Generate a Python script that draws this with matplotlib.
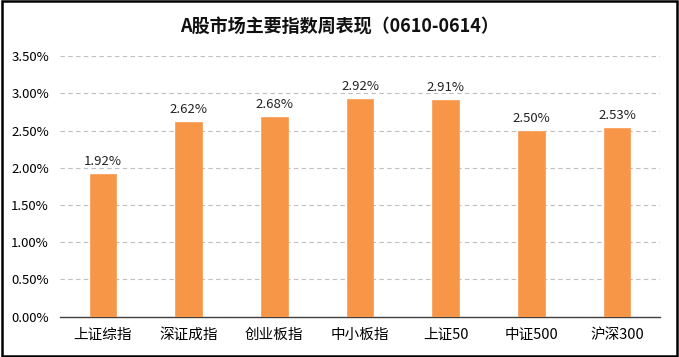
import matplotlib.pyplot as plt
from matplotlib.patches import Rectangle
from matplotlib.ticker import FuncFormatter

plt.rcParams['font.family'] = ['Noto Sans CJK SC', 'DejaVu Sans']

# data
indices = ['上证综指', '深证成指', '创业板指', '中小板指', '上证50', '中证500', '沪深300']
weekly_pct = [1.92, 2.62, 2.68, 2.92, 2.91, 2.50, 2.53]

fig = plt.figure(figsize=(6.79, 3.57), dpi=100)
ax = fig.add_axes([0.0884, 0.113, 0.8836, 0.730])

x = range(len(indices))
bars = ax.bar(x, weekly_pct, width=0.31, color='#F79646', edgecolor='#FAA25E', linewidth=0.6, zorder=3)
for xi, v in zip(x, weekly_pct):
    ax.text(xi, v + 0.08, '%.2f%%' % v, ha='center', va='bottom', fontsize=9.5, color='#222222')

ax.set_xlim(-0.5, len(indices) - 0.5)
ax.set_ylim(0, 3.5)
ax.set_yticks([i * 0.5 for i in range(8)])
ax.yaxis.set_major_formatter(FuncFormatter(lambda v, p: '%.2f%%' % v))
ax.set_xticks(list(x))
ax.set_xticklabels(indices, fontsize=10.5)
ax.tick_params(axis='y', length=0, labelsize=9.5, pad=8)
ax.tick_params(axis='x', length=0, pad=8)
ax.grid(axis='y', color='#BFBFBF', linestyle=(0, (4, 3)), linewidth=0.8, zorder=0)
for s in ['top', 'right', 'left']:
    ax.spines[s].set_visible(False)
ax.spines['bottom'].set_color('#404040')
ax.spines['bottom'].set_linewidth(1.0)

fig.text(0.5, 0.925, 'A股市场主要指数周表现（0610-0614）', ha='center', va='center',
         fontsize=13, fontweight='bold', color='#111111')

# outer frame
fig.patches.append(Rectangle((0.003, 0.004), 0.994, 0.992, transform=fig.transFigure,
                             fill=False, edgecolor='black', linewidth=1.8))

fig.savefig('out.png', dpi=100)
